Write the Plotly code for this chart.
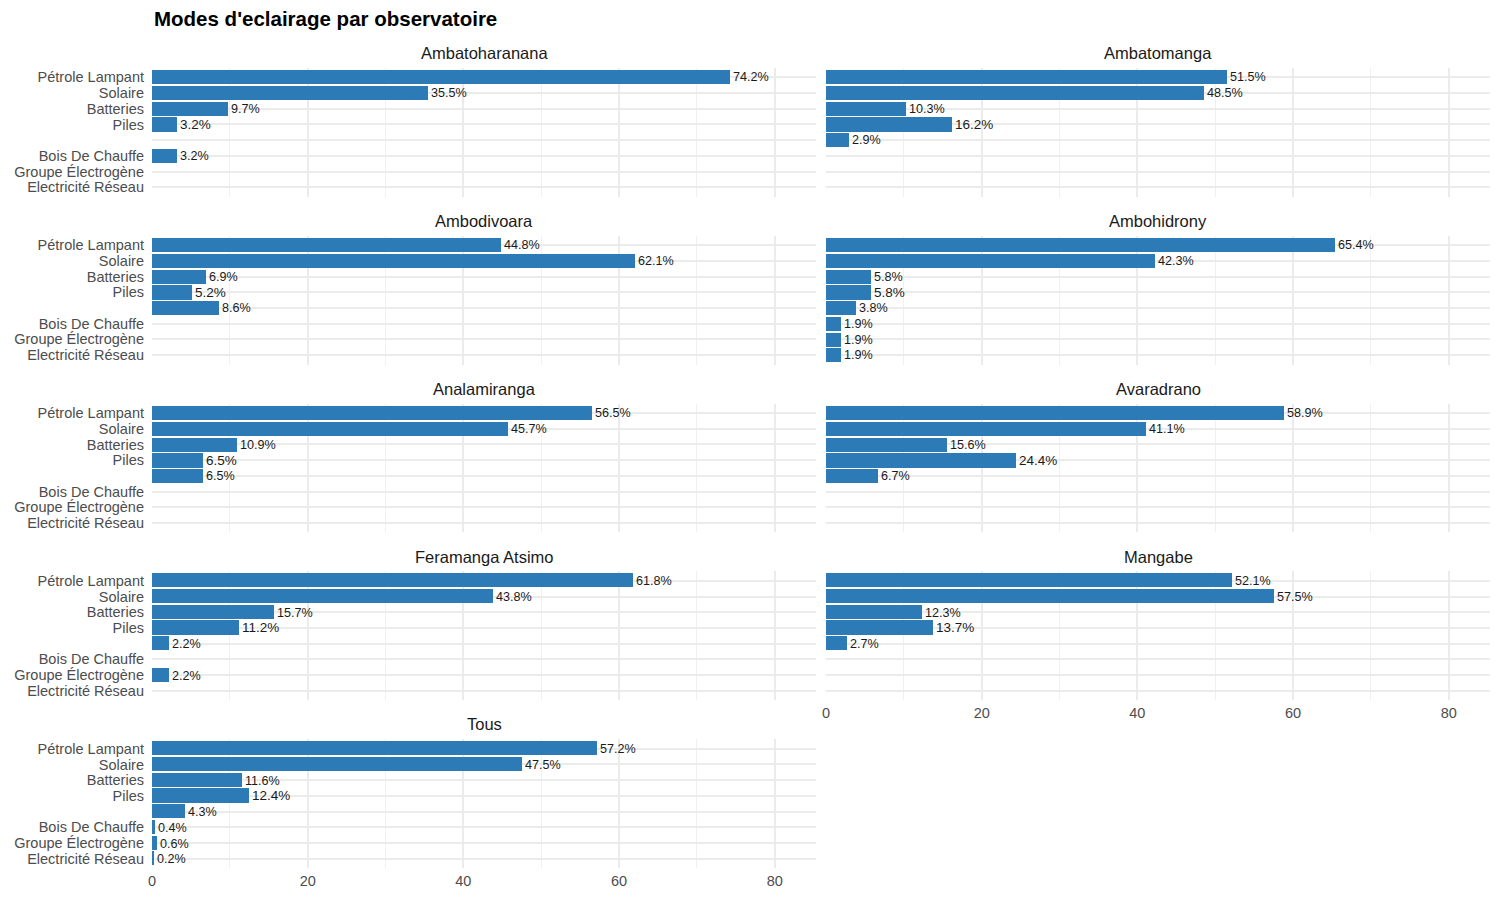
import plotly.graph_objects as go

categories = ["Pétrole Lampant", "Solaire", "Batteries", "Piles", "",
              "Bois De Chauffe", "Groupe Électrogène", "Electricité Réseau"]

panels = ["Ambatoharanana", "Ambatomanga", "Ambodivoara", "Ambohidrony",
          "Analamiranga", "Avaradrano", "Feramanga Atsimo", "Mangabe", "Tous"]

ambatoharanana = [74.2, 35.5, 9.7, 3.2, None, 3.2, None, None]
ambatomanga = [51.5, 48.5, 10.3, 16.2, 2.9, None, None, None]
ambodivoara = [44.8, 62.1, 6.9, 5.2, 8.6, None, None, None]
ambohidrony = [65.4, 42.3, 5.8, 5.8, 3.8, 1.9, 1.9, 1.9]
analamiranga = [56.5, 45.7, 10.9, 6.5, 6.5, None, None, None]
avaradrano = [58.9, 41.1, 15.6, 24.4, 6.7, None, None, None]
feramanga_atsimo = [61.8, 43.8, 15.7, 11.2, 2.2, None, 2.2, None]
mangabe = [52.1, 57.5, 12.3, 13.7, 2.7, None, None, None]
tous = [57.2, 47.5, 11.6, 12.4, 4.3, 0.4, 0.6, 0.2]

values = [ambatoharanana, ambatomanga, ambodivoara, ambohidrony,
          analamiranga, avaradrano, feramanga_atsimo, mangabe, tous]

x_ticks = [0, 20, 40, 60, 80]

# page offset (browser body margin)
OFF = 8
W, H = 1500, 900
L, R = 152 - OFF, 1490 - OFF
T, B = 67.6 - OFF, 868.4 - OFF
PW, PH = R - L, B - T
col_px = [(152 - OFF, 816 - OFF), (826 - OFF, 1490 - OFF)]
row_h = 128.8
row_step = 168

def clamp(v):
    return min(1.0, max(0.0, round(v, 6)))

def xf(p):
    return (p - L) / PW

def yf(p):
    return 1 - (p - T) / PH

FONT = "Liberation Sans, Arial, sans-serif"
BAR = "#2C7BB6"
ypos = list(range(len(categories)))

fig = go.Figure()
layout = {}
annotations = []
for i, (name, vals) in enumerate(zip(panels, values)):
    r, c = divmod(i, 2)
    idx = i + 1
    xa = "xaxis" if idx == 1 else f"xaxis{idx}"
    ya = "yaxis" if idx == 1 else f"yaxis{idx}"
    xr = "x" if idx == 1 else f"x{idx}"
    yr = "y" if idx == 1 else f"y{idx}"
    ys = [p for p, v in zip(ypos, vals) if v is not None]
    xs = [v for v in vals if v is not None]
    fig.add_trace(go.Bar(
        x=xs, y=ys, orientation="h", xaxis=xr, yaxis=yr,
        marker=dict(color=BAR, line=dict(width=0)), width=0.9,
        text=[f"{v:.1f}%" for v in xs], textposition="outside",
        textfont=dict(size=13.5, color="#1a1a1a", family=FONT),
        cliponaxis=False, showlegend=False, hoverinfo="skip",
    ))
    x0, x1 = col_px[c]
    top = T + r * row_step
    bot = top + row_h
    show_x = (name == "Tous") or (name == "Mangabe")
    layout[xa] = dict(
        domain=[clamp(xf(x0)), clamp(xf(x1))], anchor=yr, range=[0, 85.3],
        tickvals=x_ticks, ticktext=[str(t) for t in x_ticks],
        showticklabels=show_x, showgrid=True, gridcolor="#ebebeb", gridwidth=1.5,
        zeroline=False, showline=False, ticks="", ticklabelstandoff=2,
        tickfont=dict(size=14.5, color="#4d4d4d", family=FONT),
        minor=dict(dtick=10, tick0=0, showgrid=True, gridcolor="#f0f0f0", gridwidth=1),
        fixedrange=True,
    )
    layout[ya] = dict(
        domain=[clamp(yf(bot)), clamp(yf(top))], anchor=xr, range=[7.6, -0.6],
        tickvals=ypos, ticktext=categories, showticklabels=(c == 0),
        showgrid=True, gridcolor="#ebebeb", gridwidth=1.5,
        zeroline=False, showline=False, ticks="", ticklabelstandoff=7,
        tickfont=dict(size=14.5, color="#4d4d4d", family=FONT),
        fixedrange=True,
    )
    annotations.append(dict(
        text=name, x=xf((x0 + x1) / 2), y=yf(top - 15), xref="paper", yref="paper",
        xanchor="center", yanchor="middle", showarrow=False,
        font=dict(size=16.5, color="#1a1a1a", family=FONT),
    ))

annotations.append(dict(
    text="<b>Modes d'eclairage par observatoire</b>", x=xf(152 - OFF), y=yf(18 - OFF),
    xref="paper", yref="paper", xanchor="left", yanchor="middle", showarrow=False,
    font=dict(size=20.5, color="#000000", family=FONT),
))

fig.update_layout(
    width=W, height=H,
    margin=dict(l=L, r=W - R, t=T, b=H - B, autoexpand=False),
    plot_bgcolor="white", paper_bgcolor="white",
    bargap=0, annotations=annotations,
    font=dict(family=FONT),
    **layout,
)

fig.write_html("out.html", config={"displayModeBar": False})
